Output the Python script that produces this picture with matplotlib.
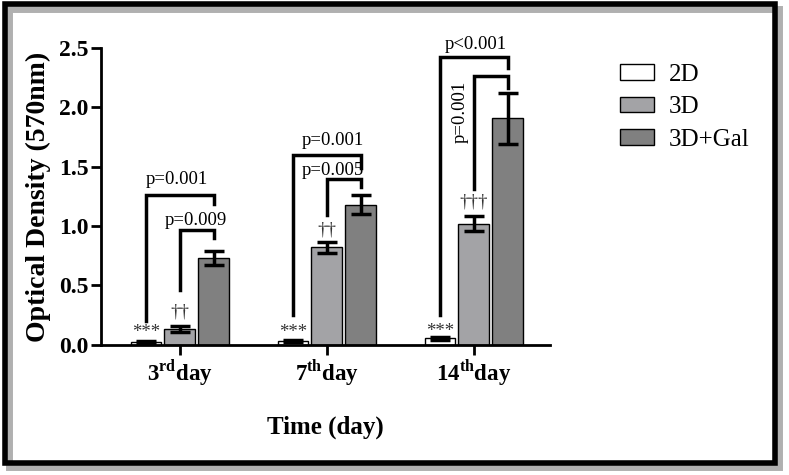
import matplotlib.pyplot as plt
import matplotlib.patches as mpatches
import numpy as np

days = ['3$^{\\mathrm{rd}}$day', '7$^{\\mathrm{th}}$day', '14$^{\\mathrm{th}}$day']
groups = ['2D', '3D', '3D+Gal']
colors = ['white', '#a3a3a6', '#808080']

means = {
    '2D': [0.025, 0.035, 0.055],
    '3D': [0.13, 0.82, 1.02],
    '3D+Gal': [0.73, 1.18, 1.91],
}
errors = {
    '2D': [0.01, 0.01, 0.015],
    '3D': [0.025, 0.05, 0.065],
    '3D+Gal': [0.06, 0.08, 0.215],
}

# brackets: (day, left bar, right bar, left bottom, top, right bottom, label, label x, label y, rotation)
brackets = [
    (0, 0, 2, 0.20, 1.26, 1.19, 'p=0.001', -0.02, 1.39, 0),
    (0, 1, 2, 0.46, 0.97, 0.90, 'p=0.009', 0.11, 1.05, 0),
    (1, 0, 2, 0.25, 1.60, 1.49, 'p=0.001', 0.04, 1.72, 0),
    (1, 1, 2, 1.09, 1.40, 1.33, 'p=0.005', 0.04, 1.47, 0),
    (2, 0, 2, 0.25, 2.42, 2.33, 'p<0.001', 0.01, 2.53, 0),
    (2, 1, 2, 1.31, 2.26, 2.16, 'p=0.001', -0.09, 1.96, 90),
]
marks = [
    (0, 0, '***', 0.10), (1, 0, '***', 0.10), (2, 0, '***', 0.11),
    (0, 1, '††', 0.28), (1, 1, '††', 0.97), (2, 1, '†††', 1.20),
]

plt.rcParams['font.family'] = 'Liberation Serif'
plt.rcParams['mathtext.fontset'] = 'custom'
plt.rcParams['mathtext.rm'] = 'Liberation Serif:bold'

fig = plt.figure(figsize=(7.89, 4.75), dpi=100)
ax = fig.add_axes([0.128, 0.274, 0.569, 0.625])

x = np.arange(len(days))
width = 0.21
offsets = [-0.231, 0.0, 0.231]

for i, g in enumerate(groups):
    ax.bar(x + offsets[i], means[g], width, yerr=errors[g], color=colors[i],
           edgecolor='black', linewidth=1, label=g,
           error_kw=dict(elinewidth=2.5, capsize=7, capthick=2.5, ecolor='black'))

for d, a, b, yl, yt, yr, lab, lx, ly, rot in brackets:
    xa = d + offsets[a]
    xb = d + offsets[b]
    ax.plot([xa, xa, xb, xb], [yl, yt, yt, yr], color='black', lw=2.5,
            clip_on=False, solid_joinstyle='miter')
    ax.text(d + lx, ly, lab, ha='center', va='center', fontsize=13.5,
            rotation=rot, clip_on=False)

for d, b, s, y in marks:
    ax.text(d + offsets[b], y, s, ha='center', va='center', fontsize=13.5,
            color='#333333', family=['Liberation Serif', 'DejaVu Serif'])

ax.set_xlim(-0.537, 2.517)
ax.set_ylim(0, 2.5)
ax.set_yticks([0.0, 0.5, 1.0, 1.5, 2.0, 2.5])
ax.set_yticklabels(['0.0', '0.5', '1.0', '1.5', '2.0', '2.5'])
ax.set_xticks(x)
ax.set_xticklabels(days)
for lab in ax.get_yticklabels():
    lab.set_fontweight('bold')
    lab.set_fontsize(17)
for lab in ax.get_xticklabels():
    lab.set_fontweight('bold')
    lab.set_fontsize(16.5)
ax.tick_params(axis='both', width=2, length=7, direction='out', pad=2)
ax.spines['top'].set_visible(False)
ax.spines['right'].set_visible(False)
ax.spines['left'].set_linewidth(2)
ax.spines['bottom'].set_linewidth(2)

ax.set_ylabel('Optical Density (570nm)', fontsize=20, fontweight='bold', labelpad=6)
ax.set_xlabel('Time (day)', fontsize=18, fontweight='bold', labelpad=20)

ax.legend(loc='upper left', bbox_to_anchor=(0.757, 0.913), bbox_transform=fig.transFigure,
          frameon=False, fontsize=18, handlelength=1.35, handleheight=0.6,
          labelspacing=0.42, handletextpad=0.6)

# frame with shadow around the figure
fig.patches.append(mpatches.Rectangle((9 / 789, 8 / 475), 770 / 789, 458 / 475,
                                      transform=fig.transFigure, fill=False,
                                      edgecolor='#b0b0b0', linewidth=5))
fig.patches.append(mpatches.Rectangle((5 / 789, 12 / 475), 770 / 789, 459 / 475,
                                      transform=fig.transFigure, fill=False,
                                      edgecolor='black', linewidth=4))

fig.savefig('out.png', dpi=100)
